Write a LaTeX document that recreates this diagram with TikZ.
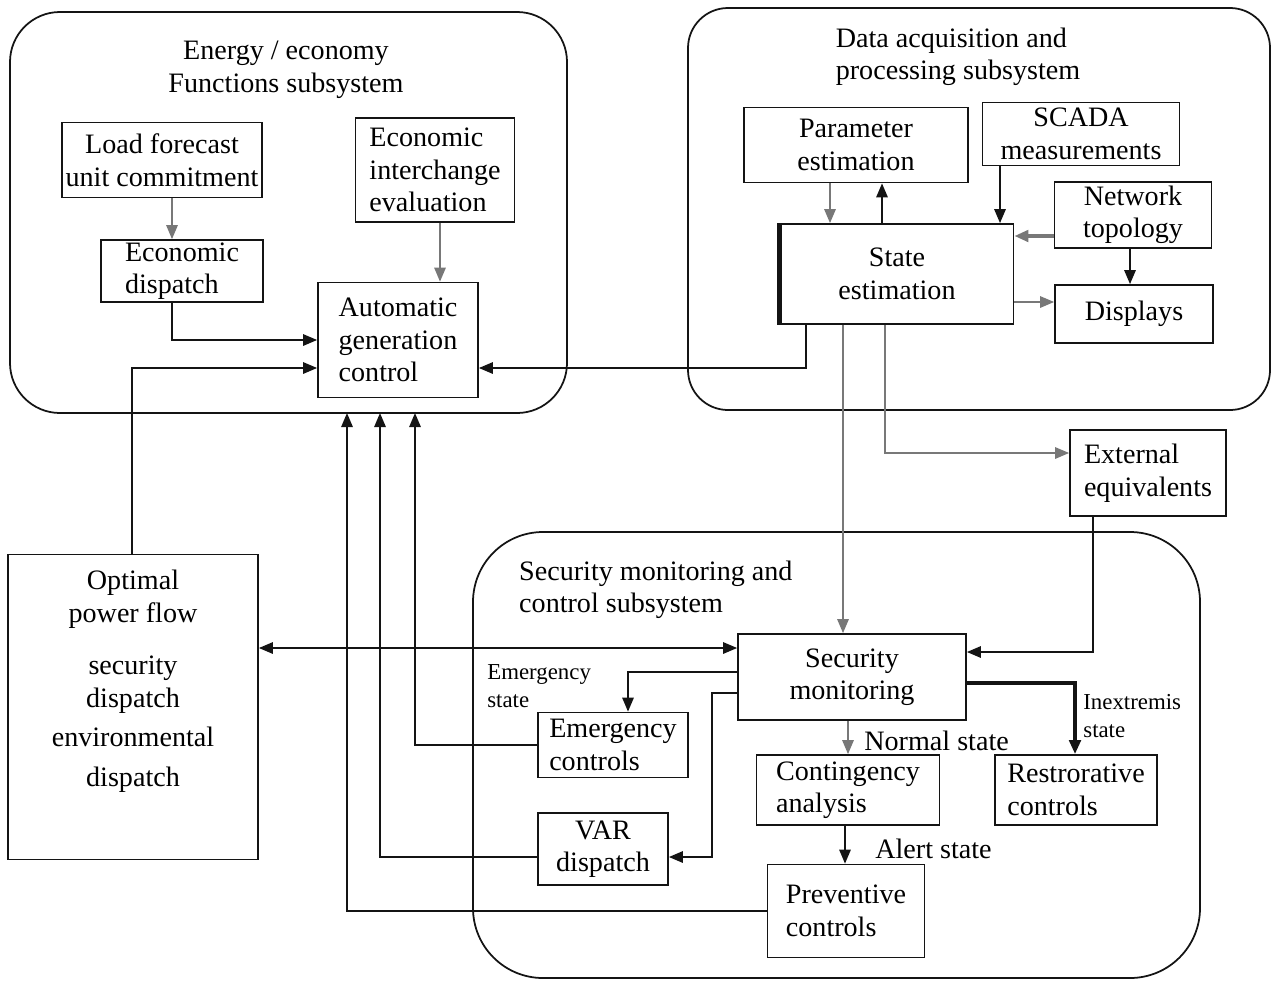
\documentclass[tikz,border=0pt]{standalone}
\usepackage{fontspec}
\setmainfont{Liberation Serif}
\usepackage{tikz}
\usetikzlibrary{arrows.meta, positioning, calc}
\definecolor{mydark}{RGB}{20,20,20}
\definecolor{linegray}{RGB}{120,120,120}
\newcommand{\boxfont}{\fontsize{16}{18.5}\selectfont}
\newcommand{\notefont}{\fontsize{13}{16}\selectfont}
\tikzset{
  box/.style={rectangle, draw=mydark, fill=white, line width=1pt,
    align=center, inner sep=1pt, font=\boxfont},
  lbox/.style={box, align=left},
  group/.style={draw=mydark, line width=1pt, rounded corners=1cm},
  note/.style={font=\notefont, align=left, inner sep=0pt},
  arrow/.style={-{Triangle[length=8pt,width=6.5pt]}, line width=1pt, color=mydark},
  grayarrow/.style={arrow, color=linegray},
  dblarrow/.style={{Triangle[length=8pt,width=6.5pt]}-{Triangle[length=8pt,width=6.5pt]},
    line width=1pt, color=mydark}
}

\begin{document}
\begin{tikzpicture}[x=0.02cm, y=-0.02cm, every node/.style={font=\boxfont}]
  \useasboundingbox (0,0) rectangle (1273,981);

  % Subsystem frames
  \draw[group] (10,12) rectangle (567,413);
  \draw[group, rounded corners=0.8cm] (688,8) rectangle (1270,410);
  \draw[group, rounded corners=1.4cm] (473,532) rectangle (1200,978);
  \node[align=center] (energytitle) at (286,70) {Energy / economy\\Functions subsystem};
  \node[align=left] (datatitle) at (958,57) {Data acquisition and\\processing subsystem};
  \node[align=left, anchor=west] (sectitle) at (513,590) {Security monitoring and\\control subsystem};

  % Energy / economy functions
  \node[box, minimum width=4cm, minimum height=1.5cm] (lf) at (162,160) {Load forecast\\unit commitment};
  \node[lbox, minimum width=3.18cm, minimum height=2.08cm] (eie) at (435,170) {Economic\\interchange\\evaluation};
  \node[lbox, minimum width=3.24cm, minimum height=1.24cm] (ed) at (182,271) {Economic\\dispatch};
  \node[lbox, minimum width=3.2cm, minimum height=2.3cm] (agc) at (398,340) {Automatic\\generation\\control};

  % Data acquisition and processing
  \node[box, minimum width=4.48cm, minimum height=1.5cm] (pe) at (856,145) {Parameter\\estimation};
  \node[box, minimum width=3.94cm, minimum height=1.26cm] (scada) at (1081,134) {SCADA\\measurements};
  \node[box, minimum width=3.14cm, minimum height=1.32cm] (nt) at (1133,215) {Network\\topology};
  \node[box, minimum width=4.66cm, minimum height=2cm] (se) at (897,274) {State\\estimation};
  \draw[line width=2.5pt, color=mydark] (se.north west) -- (se.south west);
  \node[box, minimum width=3.16cm, minimum height=1.16cm] (disp) at (1134,314) {Displays};
  \node[lbox, minimum width=3.12cm, minimum height=1.72cm] (ee) at (1148,473) {External\\equivalents};

  % Optimal power flow
  \node[box, minimum width=5cm, minimum height=6.1cm] (opf) at (133,707) {};
  \node[anchor=north, align=center] (opftext) at (133,564)
    {Optimal\\power flow\\[0.4cm]security\\dispatch\\[0.14cm]environmental\\[0.14cm]dispatch};

  % Security monitoring and control
  \node[box, minimum width=4.56cm, minimum height=1.72cm] (sm) at (852,677) {Security\\monitoring};
  \node[lbox, minimum width=3cm, minimum height=1.3cm] (ec) at (613,745) {Emergency\\controls};
  \node[lbox, minimum width=3.66cm, minimum height=1.4cm] (ca) at (848,790) {Contingency\\analysis};
  \node[lbox, minimum width=3.24cm, minimum height=1.4cm] (rc) at (1076,790) {Restrorative\\controls};
  \node[box, minimum width=2.6cm, minimum height=1.44cm] (var) at (603,849) {VAR\\dispatch};
  \node[lbox, minimum width=3.14cm, minimum height=1.86cm] (pc) at (846,911) {Preventive\\controls};
  \node[note, anchor=west] (emlbl) at (487,686) {Emergency\\state};
  \node[note, anchor=west] (inlbl) at (1083,716) {Inextremis\\state};
  \node[anchor=west, inner sep=0pt] (normallbl) at (864,741) {Normal state};
  \node[anchor=west, inner sep=0pt] (alertlbl) at (875,849) {Alert state};

  % Inputs to AGC
  \coordinate (in1) at (347,413);
  \coordinate (in2) at (380,413);
  \coordinate (in3) at (415,413);

  % Energy connectors
  \draw[grayarrow] (172,0 |- lf.south) -- (172,0 |- ed.north);
  \draw[grayarrow] (440,0 |- eie.south) -- (440,0 |- agc.north);
  \draw[arrow] (172,0 |- ed.south) |- (agc.west |- 0,340);
  \draw[arrow] (132,0 |- opf.north) |- (agc.west |- 0,368);
  \draw[arrow] (806,0 |- se.south) |- (agc.east |- 0,368);
  \draw[arrow] (pc.west) -| (in1);
  \draw[arrow] (var.west |- 0,857) -| (in2);
  \draw[arrow] (ec.west) -| (in3);

  % Data connectors
  \draw[grayarrow] (830,0 |- pe.south) -- (830,0 |- se.north);
  \draw[arrow] (882,0 |- se.north) -- (882,0 |- pe.south);
  \draw[arrow] (1000,0 |- scada.south) -- (1000,0 |- se.north);
  \draw[grayarrow, line width=2.5pt] (nt.west |- 0,236) -- (se.east |- 0,236);
  \draw[arrow] (1130,0 |- nt.south) -- (1130,0 |- disp.north);
  \draw[grayarrow] (se.east |- 0,302) -- (disp.west |- 0,302);
  \draw[grayarrow] (843,0 |- se.south) -- (843,0 |- sm.north);
  \draw[grayarrow] (885,0 |- se.south) |- (ee.west |- 0,453);

  % Security connectors
  \draw[dblarrow] (opf.east |- 0,648) -- (sm.west |- 0,648);
  \draw[arrow] (1093,0 |- ee.south) |- (sm.east |- 0,652);
  \draw[arrow] (sm.west |- 0,672) -| (628,0 |- ec.north);
  \draw[arrow] (sm.west |- 0,693) -| (712,857) -- (var.east |- 0,857);
  \draw[grayarrow] (848,0 |- sm.south) -- (848,0 |- ca.north);
  \draw[arrow] (845,0 |- ca.south) -- (845,0 |- pc.north);
  \draw[arrow, line width=2pt] (sm.east |- 0,683) -| (1075,0 |- rc.north);
\end{tikzpicture}
\end{document}
